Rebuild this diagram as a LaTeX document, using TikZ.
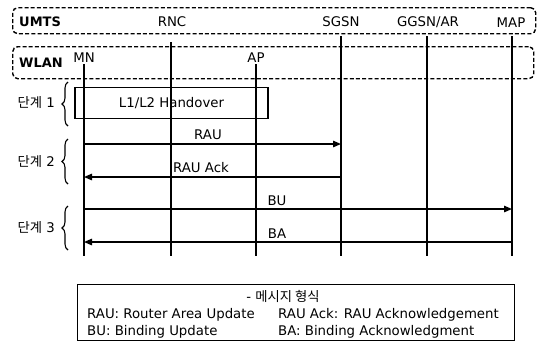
\documentclass[tikz,border=0pt]{standalone}
\usepackage{fontspec}
\setmainfont{DejaVu Sans}
\newfontfamily\kr{Noto Sans CJK KR}
\usetikzlibrary{arrows.meta,decorations.pathreplacing}
\tikzset{
  dbox/.style={draw, dash pattern=on 4pt off 2.2pt, line width=1.4pt, rounded corners=5pt, inner sep=0pt},
  life/.style={line width=1.2pt},
  msg/.style={line width=1.4pt, -{Triangle[length=8pt,width=6.5pt]}},
  lbl/.style={inner sep=0pt},
  hobox/.style={draw, line width=1.1pt, minimum width=193pt, minimum height=31pt, inner sep=0pt},
  stagebrace/.style={decorate, decoration={brace, amplitude=6pt}, line width=1.1pt},
  legbox/.style={draw, line width=1.1pt, minimum width=437pt, minimum height=56pt, inner sep=0pt},
}
\begin{document}
\begin{tikzpicture}[x=1pt,y=-1pt,font=\fontsize{13.3}{15}\selectfont]
\useasboundingbox (0,0) rectangle (538,349);
% layer boxes
\node[dbox, minimum width=523pt, minimum height=26pt, anchor=north west] (umtsbox) at (12,7) {};
\node[dbox, minimum width=521pt, minimum height=32pt, anchor=north west] (wlanbox) at (12,46) {};
% labels
\node[lbl, anchor=west, font=\fontsize{13}{15}\selectfont\bfseries] (umts) at (19,22) {UMTS};
\node[lbl] (rnc) at (172,22) {RNC};
\node[lbl] (sgsn) at (341,22) {SGSN};
\node[lbl] (ggsn) at (428,22) {GGSN/AR};
\node[lbl] (map) at (511,23) {MAP};
\node[lbl, anchor=west, font=\fontsize{13}{15}\selectfont\bfseries] (wlan) at (19,63) {WLAN};
\node[lbl] (mn) at (84,58) {MN};
\node[lbl] (ap) at (256,58) {AP};
% lifeline coordinates
\coordinate (mnT) at (84,64);   \coordinate (mnB) at (84,256);
\coordinate (rncT) at (171,42); \coordinate (rncB) at (171,256);
\coordinate (apT) at (256,64);  \coordinate (apB) at (256,256);
\coordinate (sgT) at (341,36);  \coordinate (sgB) at (341,256);
\coordinate (ggT) at (427,36);  \coordinate (ggB) at (427,256);
\coordinate (mpT) at (512,36);  \coordinate (mpB) at (512,256);
\foreach \a in {mn,rnc,ap,sg,gg,mp}{\draw[life] (\a T) -- (\a B);}
% handover box
\node[hobox] (ho) at (171.5,103) {L1/L2 Handover};
% message endpoints
\coordinate (rau1) at (84,144);  \coordinate (rau2) at (341,144);
\coordinate (ack1) at (341,177); \coordinate (ack2) at (84,177);
\coordinate (bu1) at (84,209);   \coordinate (bu2) at (512,209);
\coordinate (ba1) at (512,242);  \coordinate (ba2) at (84,242);
\draw[msg] (rau1) -- (rau2);
\draw[msg] (ack1) -- (ack2);
\draw[msg] (bu1) -- (bu2);
\draw[msg] (ba1) -- (ba2);
\node[lbl] (lrau) at (208,135) {RAU};
\node[lbl] (lack) at (201,168) {RAU Ack};
\node[lbl] (lbu) at (277,201) {BU};
\node[lbl] (lba) at (277,234) {BA};
% braces
\coordinate (b1a) at (68,126); \coordinate (b1b) at (68,82);
\coordinate (b2a) at (68,184); \coordinate (b2b) at (68,139);
\coordinate (b3a) at (68,250); \coordinate (b3b) at (68,206);
\draw[stagebrace] (b1a) -- (b1b);
\draw[stagebrace] (b2a) -- (b2b);
\draw[stagebrace] (b3a) -- (b3b);
\node[lbl, anchor=east] (s1) at (55,103) {{\kr 단계} 1};
\node[lbl, anchor=east] (s2) at (55,162) {{\kr 단계} 2};
\node[lbl, anchor=east] (s3) at (55,228) {{\kr 단계} 3};
% legend
\node[legbox, anchor=north west] (leg) at (77,284) {};
\node[lbl] (legt) at (283,296) {- {\kr 메시지 형식}};
\node[lbl, anchor=base west] (l1) at (87,318) {RAU: Router Area Update};
\node[lbl, anchor=base west] (l2) at (87,335) {BU: Binding Update};
\node[lbl, anchor=base west] (l3) at (278,318) {RAU Ack: RAU Acknowledgement};
\node[lbl, anchor=base west] (l4) at (278,335) {BA: Binding Acknowledgment};
\end{tikzpicture}
\end{document}
